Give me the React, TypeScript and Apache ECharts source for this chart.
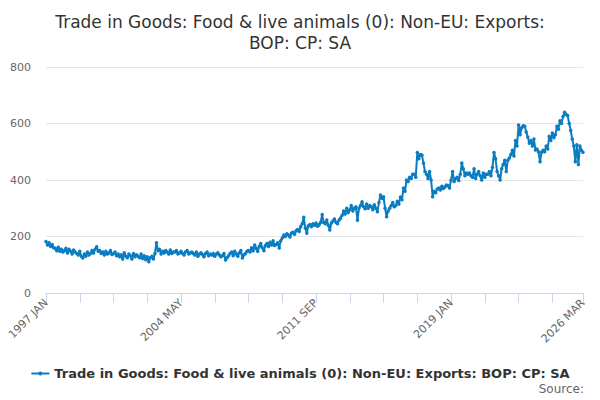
import React, { useEffect, useRef } from "react";
import * as echarts from "echarts";

const firstYear = 1997;
const monthNames = ["JAN", "FEB", "MAR", "APR", "MAY", "JUN", "JUL", "AUG", "SEP", "OCT", "NOV", "DEC"];

// £ million, monthly, 1997 JAN .. 2026 MAR
const exportsValues = [
  182, 170, 178, 165, 172, 160, 158, 150, 162, 148, 155, 145, // 1997
  150, 158, 142, 155, 148, 138, 152, 145, 140, 135, 148, 130, // 1998
  124, 138, 130, 145, 135, 140, 150, 142, 155, 164, 148, 150, // 1999
  140, 145, 135, 148, 138, 142, 150, 136, 140, 145, 132, 138, // 2000
  128, 135, 120, 142, 130, 125, 138, 132, 120, 140, 128, 135, // 2001
  130, 125, 138, 122, 132, 118, 128, 111, 125, 130, 120, 140, // 2002
  178, 150, 155, 138, 148, 142, 150, 145, 138, 152, 140, 145, // 2003
  145, 150, 138, 142, 148, 140, 135, 146, 150, 138, 142, 145, // 2004
  140, 135, 145, 130, 138, 142, 136, 128, 140, 145, 132, 138, // 2005
  135, 140, 130, 138, 142, 135, 128, 132, 140, 117, 125, 132, // 2006
  140, 145, 132, 148, 138, 130, 142, 150, 124, 135, 140, 148, // 2007
  150, 145, 160, 150, 170, 158, 148, 165, 175, 160, 150, 168, // 2008
  175, 165, 180, 170, 185, 168, 172, 178, 159, 185, 195, 205, // 2009
  200, 210, 205, 198, 212, 215, 208, 220, 225, 218, 235, 245, // 2010
  268, 230, 212, 238, 242, 235, 245, 240, 248, 236, 242, 250, // 2011
  278, 250, 245, 258, 240, 223, 248, 255, 262, 250, 245, 258, // 2012
  265, 275, 290, 280, 300, 285, 295, 310, 290, 300, 305, 258, // 2013
  300, 310, 323, 305, 298, 315, 300, 310, 305, 295, 312, 300, // 2014
  288, 320, 347, 335, 341, 300, 270, 290, 300, 310, 320, 305, // 2015
  310, 325, 315, 340, 330, 372, 360, 400, 395, 410, 405, 420, // 2016
  420, 410, 497, 475, 490, 488, 460, 430, 420, 405, 430, 400, // 2017
  341, 360, 355, 368, 372, 365, 378, 370, 375, 382, 380, 372, // 2018
  400, 430, 395, 405, 410, 398, 420, 460, 440, 415, 425, 420, // 2019
  425, 415, 410, 440, 405, 420, 430, 415, 400, 425, 410, 420, // 2020
  420, 430, 415, 445, 497, 475, 430, 415, 400, 440, 455, 470, // 2021
  430, 470, 478, 490, 505, 485, 540, 520, 595, 560, 585, 592, // 2022
  590, 570, 552, 530, 540, 520, 545, 506, 510, 500, 465, 498, // 2023
  505, 500, 520, 510, 555, 540, 566, 550, 560, 590, 580, 610, // 2024
  600, 625, 640, 632, 628, 600, 575, 545, 520, 465, 525, 455, // 2025
  520, 505, 498, // 2026
];

const yTicks = [0, 200, 400, 600, 800];

const categories = exportsValues.map(
  (_, i) => `${firstYear + Math.floor(i / 12)} ${monthNames[i % 12]}`
);

const seriesName = "Trade in Goods: Food & live animals (0): Non-EU: Exports: BOP: CP: SA";
const font = "'DejaVu Sans', Verdana, sans-serif";

export default function App() {
  const ref = useRef<HTMLDivElement | null>(null);

  useEffect(() => {
    document.body.style.margin = "0";
    if (!ref.current) return;
    const chart = echarts.init(ref.current, undefined, { renderer: "svg" });
    const last = categories.length - 1;
    chart.setOption({
      animation: false,
      textStyle: { fontFamily: font },
      title: [
        {
          text: "Trade in Goods: Food & live animals (0): Non-EU: Exports:\nBOP: CP: SA",
          left: "center",
          top: 6,
          textStyle: { fontSize: 17, fontWeight: "normal", color: "#333333", lineHeight: 21, fontFamily: font },
        },
        {
          text: "Source:",
          right: 11,
          bottom: 0,
          textStyle: { fontSize: 12, fontWeight: "normal", color: "#666666", fontFamily: font },
        },
      ],
      legend: {
        bottom: 15,
        left: "center",
        itemWidth: 18,
        itemHeight: 5,
        itemGap: 6,
        data: [seriesName],
        textStyle: { fontSize: 13, fontWeight: "bold", color: "#333333", fontFamily: font },
      },
      grid: { left: 46, right: 17, top: 67, bottom: 107 },
      xAxis: {
        type: "category",
        data: categories,
        boundaryGap: false,
        axisLine: { lineStyle: { color: "#ccd6eb" } },
        axisTick: {
          length: 10,
          interval: (i: number) => i % 22 === 0 || i === last,
          lineStyle: { color: "#ccd6eb" },
        },
        axisLabel: {
          rotate: 45,
          interval: (i: number) => i % 88 === 0 || i === last,
          color: "#666666",
          fontSize: 11,
          margin: 8,
          fontFamily: font,
        },
      },
      yAxis: {
        type: "value",
        min: yTicks[0],
        max: yTicks[yTicks.length - 1],
        interval: 200,
        axisLine: { show: false },
        axisTick: { show: false },
        splitLine: { lineStyle: { color: "#e6e6e6" } },
        axisLabel: { color: "#666666", fontSize: 11, margin: 15, fontFamily: font },
      },
      series: [
        {
          name: seriesName,
          type: "line",
          data: exportsValues,
          symbol: "circle",
          symbolSize: 3.5,
          showAllSymbol: true,
          lineStyle: { width: 2, color: "#0a7dc2" },
          itemStyle: { color: "#0a7dc2" },
        },
      ],
    });
    return () => chart.dispose();
  }, []);

  return <div ref={ref} style={{ width: 600, height: 400 }} />;
}
